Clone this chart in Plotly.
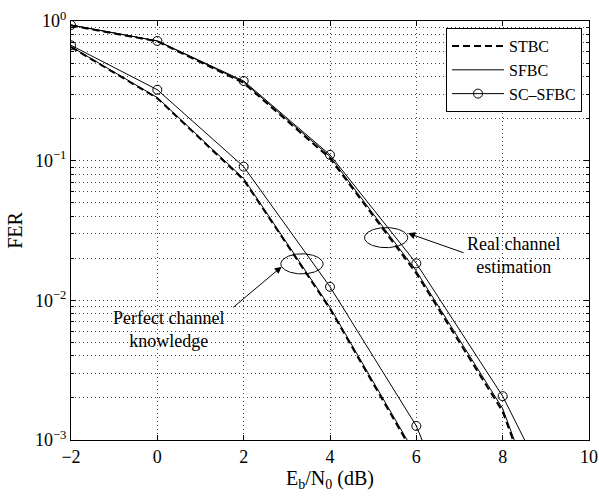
import numpy as np
import plotly.graph_objects as go

# Eb/N0 grid (dB)
snr_db = [-2, 0, 2, 4, 6, 8, 10]

# Frame error rate, perfect channel knowledge
fer_stbc_perfect = [0.65, 0.28, 0.073, 0.0087, 0.00074, None, None]
fer_sfbc_perfect = [0.655, 0.283, 0.0745, 0.0089, 0.00077, None, None]
fer_scsfbc_perfect = [0.67, 0.322, 0.0906, 0.0125, 0.00126, 0.00004, None]

# Frame error rate, real channel estimation
fer_stbc_real = [0.93, 0.715, 0.36, 0.104, 0.0156, 0.0016, 0.000032]
fer_sfbc_real = [0.935, 0.72, 0.365, 0.107, 0.0162, 0.00168, 0.000035]
fer_scsfbc_real = [0.936, 0.72, 0.372, 0.11, 0.0184, 0.00206, 0.00012]

y_tick_vals = [1e-3, 1e-2, 1e-1, 1]
y_tick_text = ["10<sup>\u22123</sup>", "10<sup>\u22122</sup>", "10<sup>\u22121</sup>", "10<sup>0</sup>"]
x_tick_vals = [-2, 0, 2, 4, 6, 8, 10]
x_tick_text = ["\u22122", "0", "2", "4", "6", "8", "10"]

FONT = "Liberation Serif, Times New Roman, serif"
BLACK = "#000000"

fig = go.Figure()

dashed = dict(color=BLACK, width=2, dash="7px,4px")
thin = dict(color=BLACK, width=1)
circ = dict(symbol="circle-open", size=9, color=BLACK, line=dict(width=1, color=BLACK))

fig.add_trace(go.Scatter(x=snr_db, y=fer_stbc_perfect, mode="lines", line=dashed,
                         name="STBC"))
fig.add_trace(go.Scatter(x=snr_db, y=fer_sfbc_perfect, mode="lines", line=thin,
                         name="SFBC"))
fig.add_trace(go.Scatter(x=snr_db, y=fer_scsfbc_perfect, mode="lines+markers", line=thin,
                         marker=circ, name="SC\u2013SFBC"))
fig.add_trace(go.Scatter(x=snr_db, y=fer_stbc_real, mode="lines", line=dashed,
                         showlegend=False))
fig.add_trace(go.Scatter(x=snr_db, y=fer_sfbc_real, mode="lines", line=thin,
                         showlegend=False))
fig.add_trace(go.Scatter(x=snr_db, y=fer_scsfbc_real, mode="lines+markers", line=thin,
                         marker=circ, showlegend=False))

# Ellipses grouping the curve families (centre x in dB, centre log10 y, radii)
ellipses = [(3.35, -1.739, 0.49, 0.072), (5.30, -1.551, 0.50, 0.072)]
t = np.linspace(0, 2 * np.pi, 121)
for cx, cly, rx, ry in ellipses:
    fig.add_trace(go.Scatter(x=cx + rx * np.cos(t), y=10 ** (cly + ry * np.sin(t)),
                             mode="lines", line=dict(color=BLACK, width=1),
                             showlegend=False, hoverinfo="skip"))

# Arrows pointing at the ellipses
fig.add_annotation(x=2.88, y=-1.759, ax=-50, ay=42, showarrow=True, arrowhead=2,
                   arrowsize=1.4, arrowwidth=1, arrowcolor=BLACK, text="")
fig.add_annotation(x=5.81, y=-1.520, ax=57, ay=20, showarrow=True, arrowhead=2,
                   arrowsize=1.4, arrowwidth=1, arrowcolor=BLACK, text="")

fig.add_annotation(x=0.27, y=-2.212, text="Perfect channel<br>knowledge", showarrow=False,
                   font=dict(family=FONT, size=18, color=BLACK), align="center")
fig.add_annotation(x=8.25, y=-1.677, text="Real channel<br>estimation", showarrow=False,
                   font=dict(family=FONT, size=18, color=BLACK), align="center")

minor_vals = [m * 10.0 ** e for e in (-3, -2, -1) for m in range(2, 10)]

grid = dict(showgrid=True, gridcolor="#444", gridwidth=1, griddash="1px,3px")

fig.update_xaxes(range=[-2, 10], tickvals=x_tick_vals, ticktext=x_tick_text,
                 ticks="inside", ticklen=5, tickcolor=BLACK, showline=True, linecolor=BLACK,
                 linewidth=1, mirror="allticks", zeroline=False, automargin=False,
                 tickfont=dict(family=FONT, size=18, color=BLACK),
                 title=dict(text="E<sub>b</sub>/N<sub>0</sub> (dB)", standoff=2,
                            font=dict(family=FONT, size=20, color=BLACK)),
                 **grid)
fig.update_yaxes(type="log", range=[-3, 0], tickvals=y_tick_vals, ticktext=y_tick_text,
                 ticks="inside", ticklen=5, tickcolor=BLACK, showline=True, linecolor=BLACK,
                 linewidth=1, mirror="allticks", zeroline=False, automargin=False,
                 tickfont=dict(family=FONT, size=18, color=BLACK),
                 title=dict(text="FER", standoff=6, font=dict(family=FONT, size=20, color=BLACK)),
                 minor=dict(tickvals=minor_vals, ticks="inside", ticklen=3, tickcolor=BLACK,
                            showgrid=True, gridcolor="#444", gridwidth=1, griddash="1px,3px"),
                 **grid)

fig.update_layout(
    width=599, height=496,
    margin=dict(l=71, r=10, t=21, b=56),
    paper_bgcolor="white", plot_bgcolor="white",
    font=dict(family=FONT, color=BLACK),
    showlegend=True,
    legend=dict(x=0.9865, y=0.983, xanchor="right", yanchor="top",
                bgcolor="white", bordercolor=BLACK, borderwidth=1,
                font=dict(family=FONT, size=16, color=BLACK),
                tracegroupgap=0, itemwidth=52),
)

fig.write_html("out.html")
